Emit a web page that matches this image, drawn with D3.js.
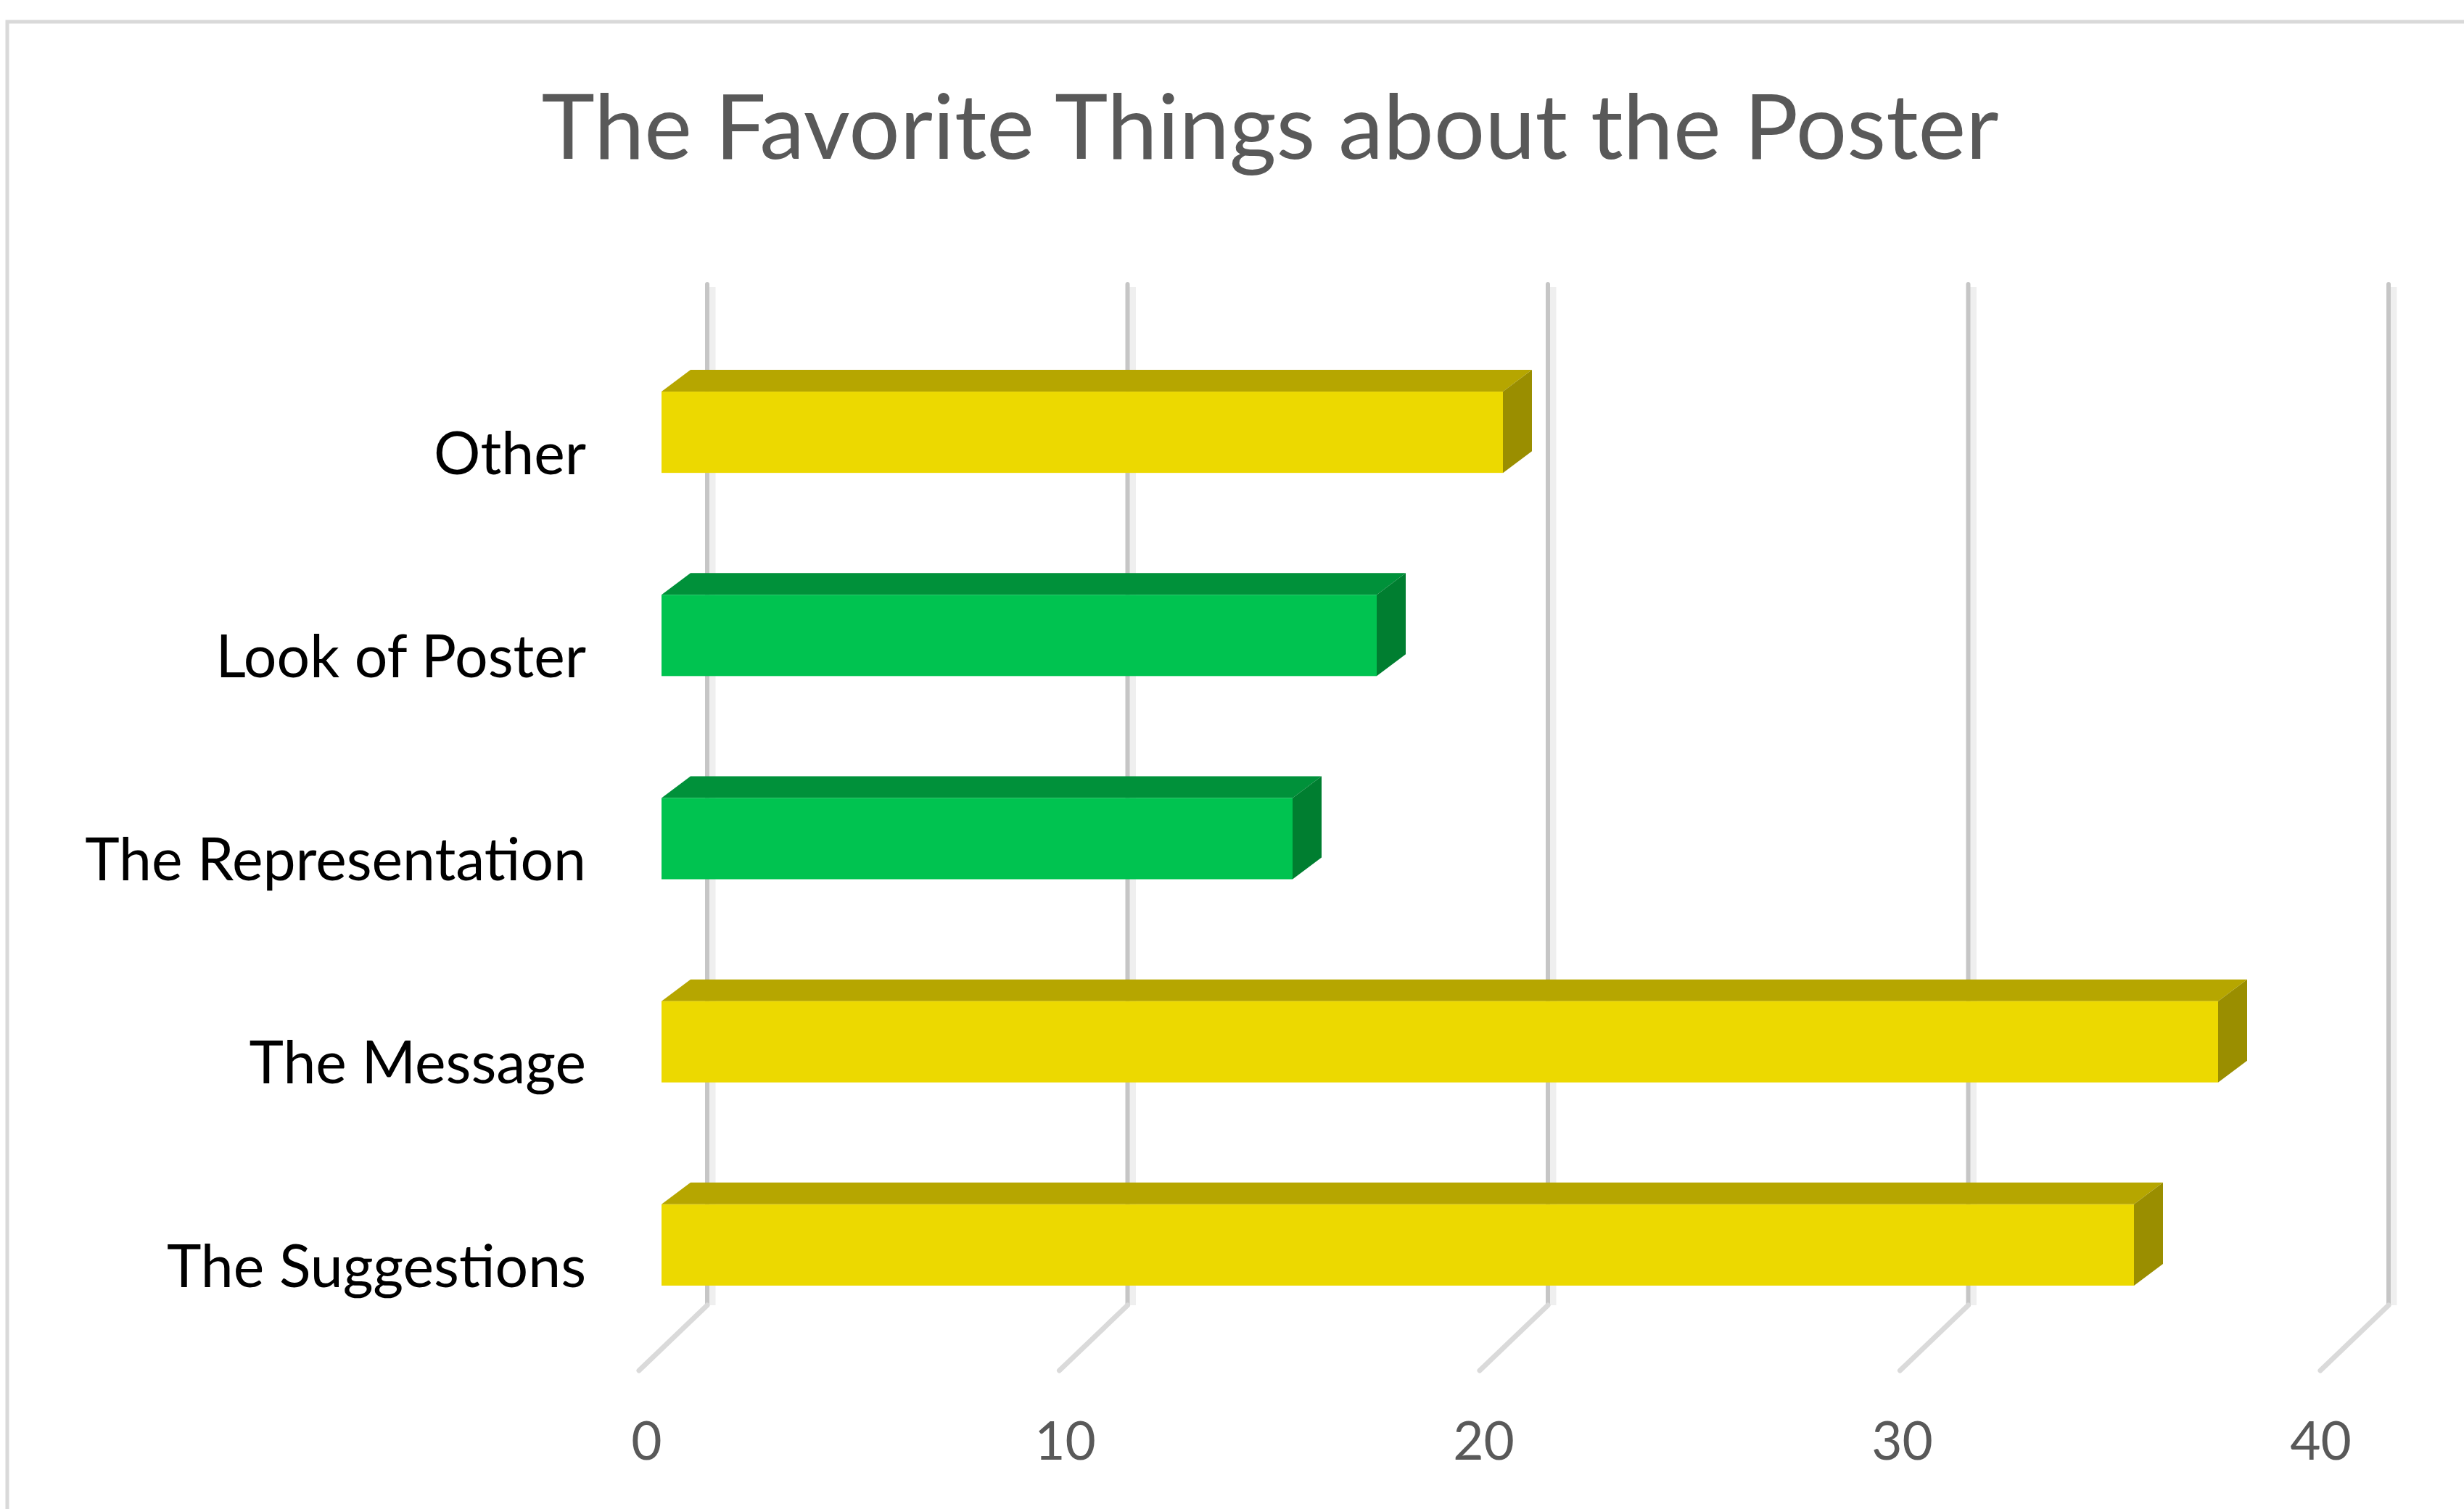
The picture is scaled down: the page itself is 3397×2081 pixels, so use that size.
<!DOCTYPE html>
<html><head><meta charset="utf-8">
<script src="https://cdn.jsdelivr.net/npm/d3@7"></script>
<style>html,body{margin:0;padding:0;background:#fff;overflow:hidden}</style>
</head><body>
<svg id="c" width="3397" height="2081"></svg>
<script>
const categories = ["Other","Look of Poster","The Representation","The Message","The Suggestions"];
const values = [20,17,15,37,35];
const colorGroups = ["yellow","green","green","yellow","yellow"];
const tickValues = [0,10,20,30,40];
const titleText = "The Favorite Things about the Poster";

const W=3397,H=2081;
const FONT = "Lato, 'Open Sans', sans-serif";
const svg=d3.select("#c");
const palette = {
  yellow:{front:"#ecd900",top:"#b6a600",side:"#9a8e00"},
  green:{front:"#00c350",top:"#00913a",side:"#007e30"}
};

function fitSize(txt, target){
  const t=svg.append("text").attr("font-family",FONT).attr("font-size",100).text(txt);
  const len=t.node().getComputedTextLength(); t.remove();
  return 100*target/len;
}

// frame
svg.append("rect").attr("x",10).attr("y",30).attr("width",W+40).attr("height",H+40)
  .attr("fill","#fff").attr("stroke","#d9d9d9").attr("stroke-width",5);

const xBack = d3.scaleLinear().domain([0,40]).range([975,3293]);
const xFront = d3.scaleLinear().domain([0,40]).range([912,912+58*40]);
const xLabel = d3.scaleLinear().domain([0,40]).range([891,3199]);
const y = d3.scaleBand().domain(categories).range([456,1857]).paddingInner(0.6).paddingOuter(0.3);
const depthX=40, depthY=30;
const wallTop=392, wallBottom=1800, floorDX=-94, floorDY=90;

// gridlines (back wall + floor)
const grid=svg.append("g");
tickValues.forEach(v=>{
  const x=xBack(v);
  grid.append("line").attr("x1",x+7).attr("x2",x+7).attr("y1",wallTop+4).attr("y2",wallBottom)
    .attr("stroke","#efefef").attr("stroke-width",9);
  grid.append("line").attr("x1",x).attr("x2",x).attr("y1",wallTop).attr("y2",wallBottom)
    .attr("stroke","#c6c6c6").attr("stroke-width",6).attr("stroke-linecap","round");
  grid.append("line").attr("x1",x).attr("x2",x+floorDX).attr("y1",wallBottom).attr("y2",wallBottom+floorDY)
    .attr("stroke","#dadada").attr("stroke-width",7).attr("stroke-linecap","round");
});

// bars
const bars=svg.append("g");
categories.forEach((c,i)=>{
  const p=palette[colorGroups[i]];
  const x0=xFront(0), x1=xFront(values[i]);
  const yt=y(c), yb=yt+y.bandwidth();
  bars.append("path").attr("d",`M${x0},${yt}L${x0+depthX},${yt-depthY}L${x1+depthX},${yt-depthY}L${x1},${yt}Z`).attr("fill",p.top);
  bars.append("path").attr("d",`M${x1},${yt}L${x1+depthX},${yt-depthY}L${x1+depthX},${yb-depthY}L${x1},${yb}Z`).attr("fill",p.side);
  bars.append("rect").attr("x",x0).attr("y",yt).attr("width",x1-x0).attr("height",yb-yt).attr("fill",p.front);
});

// title
const titleSize=fitSize(titleText,2009);
svg.append("text").attr("x",1751).attr("y",219).attr("text-anchor","middle")
  .attr("font-family",FONT).attr("font-size",titleSize).attr("fill","#595959").text(titleText);

// category axis
const catSize=fitSize("The Representation",691);
const ya=svg.append("g").attr("transform","translate(808,32)")
  .call(d3.axisLeft(y).tickSize(0).tickPadding(0));
ya.select(".domain").remove();
ya.selectAll("text").attr("font-family",FONT).attr("font-size",catSize).attr("fill","#000");

// value axis labels
const xa=svg.append("g").attr("transform","translate(0,2013)")
  .call(d3.axisBottom(xLabel).tickValues(tickValues).tickSize(0));
xa.select(".domain").remove();
xa.selectAll("text").attr("y",0).attr("dy",0).attr("font-family",FONT).attr("font-size",73).attr("fill","#595959");
</script>
</body></html>
